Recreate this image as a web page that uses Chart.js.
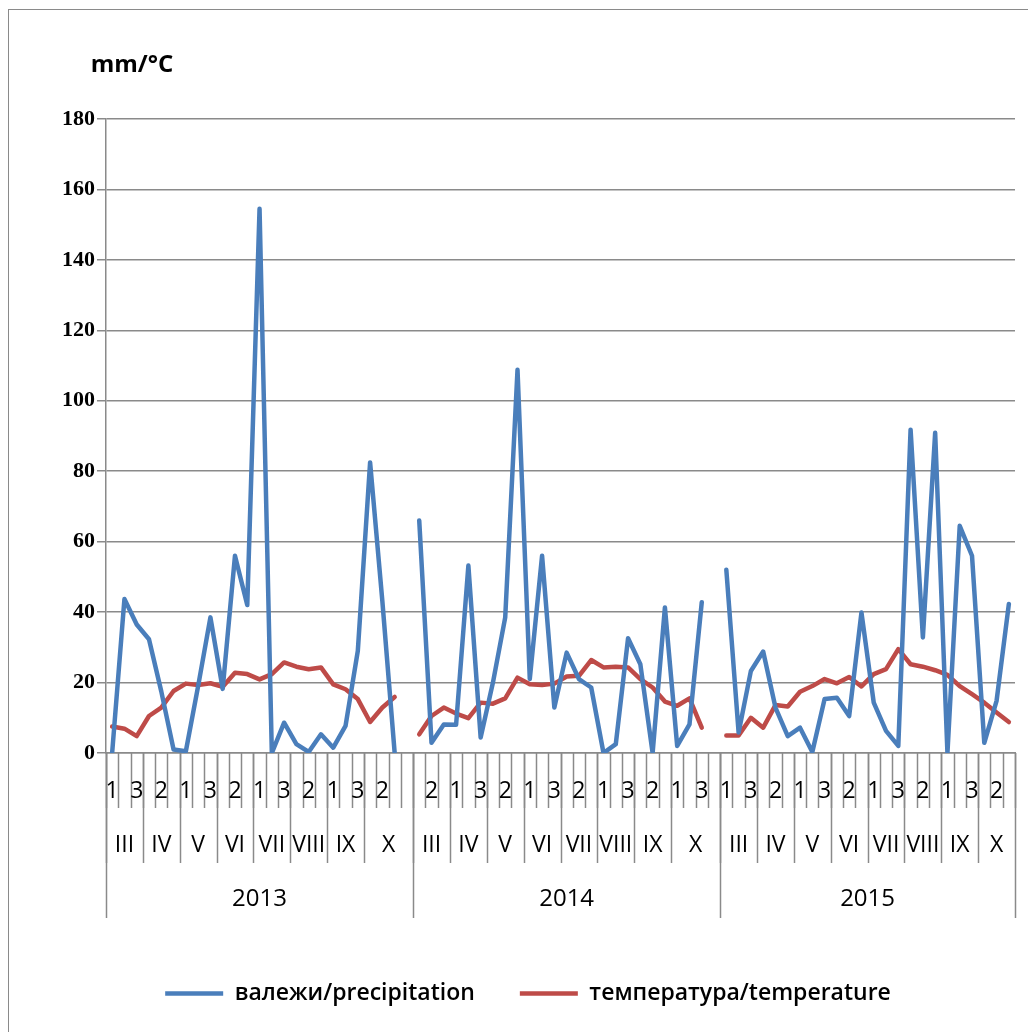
<!DOCTYPE html>
<html>
<head>
<meta charset="utf-8">
<script src="https://cdn.jsdelivr.net/npm/chart.js@4/dist/chart.umd.min.js"></script>
<style>
  html, body { margin: 0; padding: 0; background: #fff; overflow: hidden; }
  #frame { position: absolute; left: 8px; top: 9px; width: 1100px; height: 1100px; border: 1.5px solid #8a8a8a; }
  #wrap { position: absolute; left: 0; top: 0; width: 1028px; height: 1032px; }
</style>
</head>
<body>
<div id="frame"></div>
<div id="wrap"><canvas id="chart" width="1028" height="1032"></canvas></div>
<script>
// Category levels: year > month > ten-day period (decade)
const years = ['2013', '2014', '2015'];
const months = ['III', 'IV', 'V', 'VI', 'VII', 'VIII', 'IX', 'X'];
const decades = ['1', '2', '3'];
// 2013 and 2014 end with one extra, unlabeled slot under X
const extraSlot = [true, true, false];

// Precipitation, mm per ten-day period
const precipitation2013 = [0, 43.7, 36.5, 32.3, 17.5, 1, 0.5, 19, 38.5, 18.2, 56, 42, 154.5, 0, 8.6, 2.5, 0.3, 5.3, 1.5, 7.7, 29, 82.5, 43, 0];
const precipitation2014 = [66, 2.9, 8.1, 8.0, 53.2, 4.4, 20, 38.5, 108.8, 21, 56, 12.9, 28.5, 21, 18.6, 0, 2.5, 32.6, 25.2, 0, 41.3, 2, 8.1, 42.8];
const precipitation2015 = [52, 5.8, 23.3, 28.8, 12.9, 4.8, 7.2, 0.3, 15.3, 15.7, 10.5, 39.9, 14.3, 6.3, 2, 91.8, 32.8, 90.9, 0, 64.5, 56, 2.9, 14.8, 42.3];

// Mean temperature, °C per ten-day period
const temperature2013 = [7.5, 6.9, 4.8, 10.5, 12.9, 17.6, 19.7, 19.3, 19.8, 18.8, 22.8, 22.4, 20.9, 22.4, 25.7, 24.5, 23.8, 24.3, 19.5, 18.1, 15.3, 8.8, 12.9, 15.9];
const temperature2014 = [5.3, 10.5, 12.9, 11.2, 9.9, 14.3, 14.0, 15.5, 21.4, 19.5, 19.3, 19.7, 21.7, 21.9, 26.4, 24.3, 24.5, 24.3, 21, 18.6, 14.6, 13.4, 15.5, 7.2];
const temperature2015 = [5, 5, 10, 7.2, 13.6, 13.2, 17.4, 19, 21, 19.8, 21.6, 18.9, 22.4, 23.8, 29.5, 25.2, 24.5, 23.5, 22.2, 19, 16.7, 14.3, 11.5, 8.8];

const yTicks = { min: 0, max: 180, step: 20 };
const yUnit = 'mm/°C';
const seriesNames = ['валежи/precipitation', 'температура/temperature'];

const BLUE = '#4A7EBB';
const RED = '#BE4B48';
const GRID = '#8a8a8a';
const AXIS_FONT = '"Open Sans", "DejaVu Sans", sans-serif';

// Build the flat slot list and the series aligned to it
const slots = [];
years.forEach((year, yi) => {
  months.forEach(month => decades.forEach(decade => slots.push({ year, month, decade })));
  if (extraSlot[yi]) slots.push({ year, month: 'X', decade: '' });
});

function joinYears(parts) {
  const out = [];
  parts.forEach((arr, yi) => {
    out.push(...arr);
    if (extraSlot[yi]) out.push(null);
  });
  return out;
}
const precipitation = joinYears([precipitation2013, precipitation2014, precipitation2015]);
const temperature = joinYears([temperature2013, temperature2014, temperature2015]);

// Draws the three-level category axis and the unit label
const groupAxis = {
  id: 'groupAxis',
  afterDraw(chart) {
    const ctx = chart.ctx;
    const xs = chart.scales.x;
    const y0 = chart.chartArea.bottom;
    const step = xs.getPixelForValue(1) - xs.getPixelForValue(0);
    const edge = i => xs.getPixelForValue(i) - step / 2;
    const n = slots.length;

    const vline = (x, y1, y2) => {
      ctx.beginPath();
      ctx.moveTo(Math.round(x) + 0.5, y1);
      ctx.lineTo(Math.round(x) + 0.5, y2);
      ctx.stroke();
    };

    ctx.save();
    ctx.strokeStyle = GRID;
    ctx.lineWidth = 1.5;

    const decadeBottom = y0 + 55;
    const monthBottom = y0 + 110;
    const yearBottom = y0 + 165;

    // decade separators
    for (let i = 0; i <= n; i++) vline(edge(i), y0, decadeBottom);

    // month and year separators
    const monthStarts = [];
    const yearStarts = [];
    for (let i = 0; i < n; i++) {
      const prev = slots[i - 1];
      const cur = slots[i];
      if (!prev || prev.year !== cur.year) yearStarts.push(i);
      if (!prev || prev.year !== cur.year || prev.month !== cur.month) monthStarts.push(i);
    }
    monthStarts.forEach(i => vline(edge(i), y0, monthBottom));
    yearStarts.forEach(i => vline(edge(i), y0, yearBottom));
    vline(edge(n), y0, yearBottom);

    ctx.fillStyle = '#000';
    ctx.textAlign = 'center';
    ctx.textBaseline = 'middle';
    ctx.font = '23px ' + AXIS_FONT;

    // decade labels on every other slot
    slots.forEach((s, i) => {
      if (i % 2 === 0 && s.decade) ctx.fillText(s.decade, xs.getPixelForValue(i), y0 + 38);
    });

    // month labels centred in their group
    monthStarts.forEach((start, k) => {
      const end = k + 1 < monthStarts.length ? monthStarts[k + 1] : n;
      ctx.fillText(slots[start].month, (edge(start) + edge(end)) / 2, y0 + 92);
    });

    // year labels
    ctx.font = '24px ' + AXIS_FONT;
    yearStarts.forEach((start, k) => {
      const end = k + 1 < yearStarts.length ? yearStarts[k + 1] : n;
      ctx.fillText(slots[start].year, (edge(start) + edge(end)) / 2, y0 + 146);
    });

    // unit label above the value axis
    ctx.font = 'bold 24px ' + AXIS_FONT;
    ctx.textBaseline = 'alphabetic';
    ctx.fillText(yUnit, 132, 72);
    ctx.restore();
  }
};

new Chart(document.getElementById('chart'), {
  type: 'line',
  data: {
    labels: slots.map(s => s.decade),
    datasets: [
      {
        label: seriesNames[0],
        data: precipitation,
        borderColor: BLUE,
        backgroundColor: BLUE,
        borderWidth: 4.5,
        pointRadius: 0,
        pointHoverRadius: 0,
        tension: 0,
        spanGaps: false,
        borderJoinStyle: 'round',
        borderCapStyle: 'round'
      },
      {
        label: seriesNames[1],
        data: temperature,
        borderColor: RED,
        backgroundColor: RED,
        borderWidth: 4.5,
        pointRadius: 0,
        pointHoverRadius: 0,
        tension: 0,
        spanGaps: false,
        borderJoinStyle: 'round',
        borderCapStyle: 'round'
      }
    ]
  },
  options: {
    responsive: false,
    animation: false,
    devicePixelRatio: 1,
    layout: { padding: { left: 41, right: 13, top: 119, bottom: 17 } },
    scales: {
      x: {
        type: 'category',
        offset: true,
        grid: { display: false },
        ticks: { display: false },
        border: { display: true, color: GRID, width: 1.5 },
        afterFit(scale) { scale.height = 184; }
      },
      y: {
        min: yTicks.min,
        max: yTicks.max,
        ticks: {
          stepSize: yTicks.step,
          color: '#000',
          padding: 2,
          font: { family: '"Liberation Serif", serif', weight: 'bold', size: 22 }
        },
        grid: { color: GRID, lineWidth: 1.5, tickLength: 9 },
        border: { display: true, color: GRID, width: 1.5 },
        afterFit(scale) { scale.width = 65; }
      }
    },
    plugins: {
      legend: {
        position: 'bottom',
        labels: {
          usePointStyle: true,
          pointStyle: 'line',
          pointStyleWidth: 58,
          boxWidth: 58,
          boxHeight: 23,
          padding: 45,
          color: '#000',
          font: { family: AXIS_FONT, weight: '600', size: 23 }
        }
      },
      tooltip: { enabled: false }
    }
  },
  plugins: [groupAxis]
});
</script>
</body>
</html>
